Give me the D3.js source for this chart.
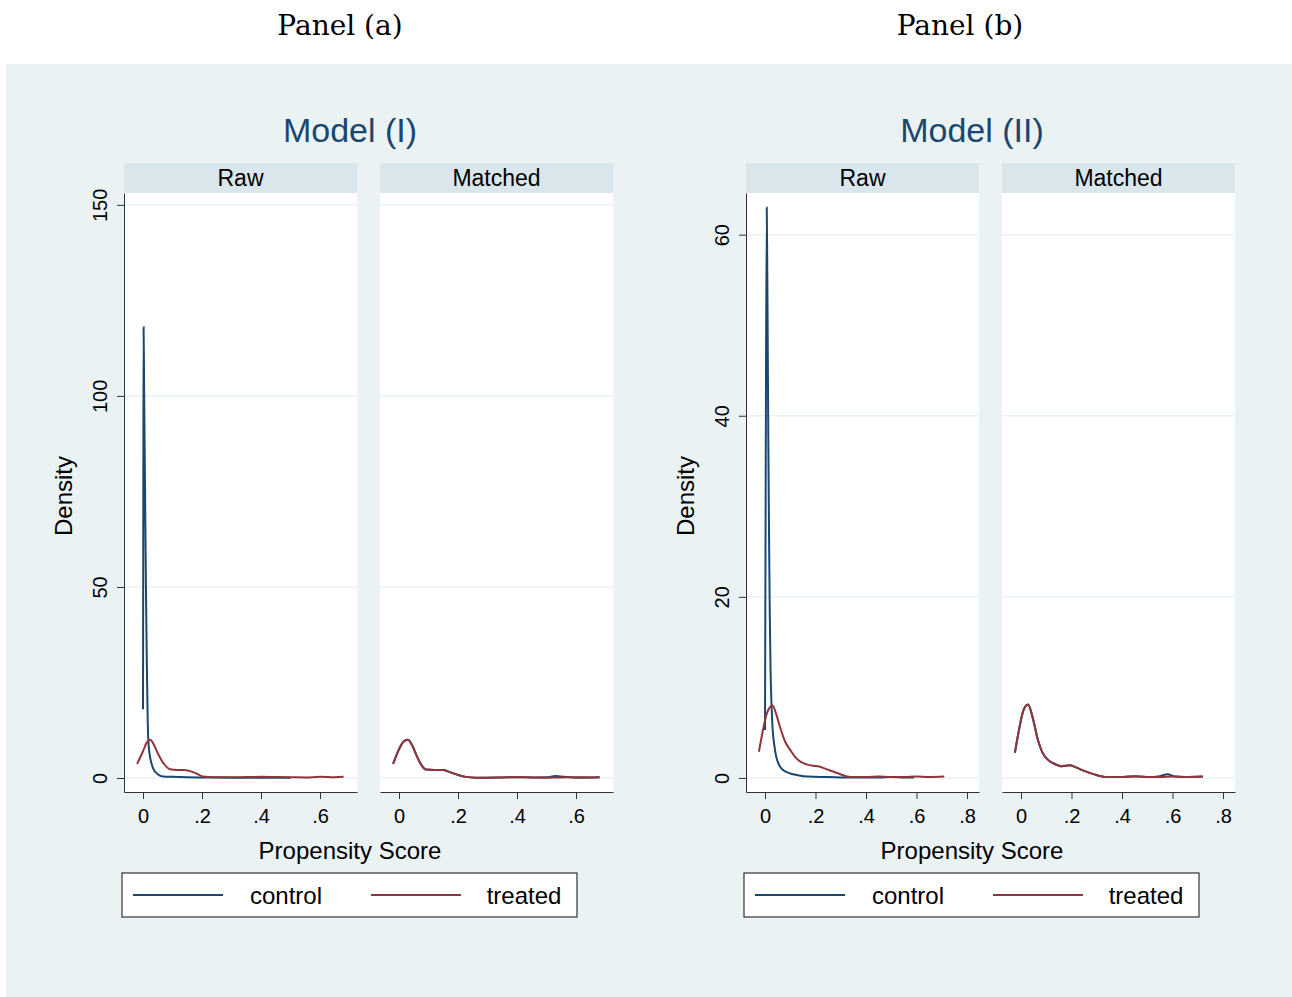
<!DOCTYPE html>
<html>
<head>
<meta charset="utf-8">
<script src="https://cdn.jsdelivr.net/npm/d3@7"></script>
<style>
  body { margin: 0; background: #fff; }
  text { font-family: "Liberation Sans", Arial, sans-serif; fill: #000; }
  .panelTitle { font-family: "DejaVu Serif", "Liberation Serif", serif; }
</style>
</head>
<body>
<div id="chart"></div>
<script>
// density curves: [propensity score, density]
var m1RawControl = [[0,18],[0.001,70],[0.002,118],[0.004,100],[0.007,75],[0.010,50],[0.013,30],[0.016,15],[0.018,10],[0.022,6.5],[0.026,4.7],[0.034,2.6],[0.05,1],[0.068,0.4],[0.1,0.3],[0.15,0.2],[0.2,0.15],[0.3,0.1],[0.4,0.08],[0.5,0.05]];
var m1RawTreated = [[-0.02,3.7],[0,7],[0.012,9.2],[0.024,10],[0.035,9],[0.05,6.5],[0.07,3.8],[0.092,2.3],[0.115,2.1],[0.136,2.1],[0.16,1.8],[0.18,1.2],[0.203,0.4],[0.24,0.2],[0.3,0.2],[0.35,0.25],[0.4,0.3],[0.45,0.25],[0.5,0.2],[0.55,0.15],[0.6,0.3],[0.65,0.2],[0.68,0.3]];
var m1MatchedControl = [[-0.02,3.7],[0,7.5],[0.015,9.5],[0.03,10],[0.045,8.5],[0.06,5.8],[0.075,3.5],[0.092,2.2],[0.12,2.1],[0.15,2.1],[0.17,1.6],[0.2,0.8],[0.227,0.3],[0.26,0.1],[0.3,0.1],[0.35,0.15],[0.4,0.2],[0.45,0.15],[0.5,0.2],[0.53,0.5],[0.56,0.3],[0.6,0.1],[0.65,0.15],[0.68,0.2]];
var m1MatchedTreated = [[-0.02,3.7],[0,7.5],[0.015,9.5],[0.03,10],[0.045,8.5],[0.06,5.8],[0.075,3.5],[0.092,2.2],[0.12,2.1],[0.15,2.1],[0.17,1.6],[0.2,0.8],[0.227,0.3],[0.26,0.1],[0.3,0.1],[0.35,0.15],[0.4,0.2],[0.45,0.15],[0.5,0.1],[0.55,0.15],[0.6,0.2],[0.65,0.15],[0.68,0.2]];

var m2RawControl = [[0,5.3],[0.003,35],[0.007,63],[0.01,52],[0.013,38],[0.016,27],[0.019,18],[0.022,12],[0.026,8],[0.03,5.5],[0.037,3.6],[0.045,2.3],[0.055,1.5],[0.07,0.9],[0.1,0.5],[0.13,0.3],[0.17,0.15],[0.25,0.1],[0.35,0.05],[0.45,0.05],[0.5,0.1],[0.55,0.05],[0.59,0.05]];
var m2RawTreated = [[-0.024,2.9],[-0.01,5],[0.008,7.2],[0.03,8],[0.045,7],[0.06,5.6],[0.08,4],[0.1,3.1],[0.12,2.3],[0.14,1.8],[0.165,1.5],[0.19,1.35],[0.21,1.3],[0.24,1.0],[0.285,0.55],[0.34,0.1],[0.4,0.1],[0.45,0.15],[0.5,0.1],[0.55,0.1],[0.6,0.15],[0.65,0.1],[0.71,0.15]];
var m2MatchedControl = [[-0.024,2.8],[-0.01,5],[0.01,7.5],[0.028,8.1],[0.045,6.8],[0.067,4.2],[0.085,2.8],[0.107,2],[0.13,1.6],[0.162,1.3],[0.194,1.4],[0.215,1.2],[0.24,0.9],[0.29,0.4],[0.34,0.1],[0.4,0.1],[0.45,0.2],[0.5,0.1],[0.55,0.2],[0.58,0.4],[0.61,0.15],[0.65,0.1],[0.72,0.15]];
var m2MatchedTreated = [[-0.024,2.8],[-0.01,5],[0.01,7.5],[0.028,8.1],[0.045,6.8],[0.067,4.2],[0.085,2.8],[0.107,2],[0.13,1.6],[0.162,1.3],[0.194,1.4],[0.215,1.2],[0.24,0.9],[0.29,0.4],[0.34,0.1],[0.4,0.1],[0.45,0.15],[0.5,0.1],[0.55,0.1],[0.6,0.15],[0.65,0.1],[0.72,0.15]];

var facetNames = ["Raw", "Matched"];
var seriesNames = ["control", "treated"];
var seriesColors = ["#1a476f", "#90353b"];
var m1YTicks = [0, 50, 100, 150];
var m2YTicks = [0, 20, 40, 60];
var m1XTicks = [0, 0.2, 0.4, 0.6];
var m2XTicks = [0, 0.2, 0.4, 0.6, 0.8];

var width = 1292, height = 997;
var svg = d3.select("#chart").append("svg")
  .attr("width", width).attr("height", height);

svg.append("rect").attr("x", 6).attr("y", 64).attr("width", width - 6).attr("height", height - 64)
  .attr("fill", "#eaf2f3");

var tickFmt = function(d) { return d === 0 ? "0" : d3.format(".1f")(d).replace(/^0/, ""); };

var models = [
  { panel: "Panel (a)", title: "Model (I)", cx: 340, tcx: 350, left: [124, 380], pw: 233,
    xdom: [-0.0644, 0.7254], ydom: [-3.66, 153.1], xt: m1XTicks, yt: m1YTicks,
    curves: [[m1RawControl, m1RawTreated], [m1MatchedControl, m1MatchedTreated]] },
  { panel: "Panel (b)", title: "Model (II)", cx: 960, tcx: 972, left: [746, 1002], pw: 233,
    xdom: [-0.0752, 0.8475], ydom: [-1.55, 64.6], xt: m2XTicks, yt: m2YTicks,
    curves: [[m2RawControl, m2RawTreated], [m2MatchedControl, m2MatchedTreated]] }
];

var plotTop = 193, plotBottom = 792;

models.forEach(function(m) {
  svg.append("text").attr("class", "panelTitle")
    .attr("x", m.cx).attr("y", 35).attr("text-anchor", "middle")
    .style("font-size", "28px").text(m.panel);

  svg.append("text").attr("x", m.tcx).attr("y", 142).attr("text-anchor", "middle")
    .style("font-size", "34px").style("fill", "#1a476f").text(m.title);

  var y = d3.scaleLinear().domain(m.ydom).range([plotBottom, plotTop]);

  m.left.forEach(function(lx, fi) {
    var x = d3.scaleLinear().domain(m.xdom).range([lx, lx + m.pw]);
    var g = svg.append("g");

    // strip
    g.append("rect").attr("x", lx).attr("y", 163).attr("width", m.pw).attr("height", 30)
      .attr("fill", "#d9e6eb");
    g.append("text").attr("x", lx + m.pw / 2).attr("y", 186).attr("text-anchor", "middle")
      .style("font-size", "23px").text(facetNames[fi]);

    // plot region
    g.append("rect").attr("x", lx).attr("y", plotTop).attr("width", m.pw).attr("height", plotBottom - plotTop)
      .attr("fill", "#fff");

    g.selectAll(".grid").data(m.yt).enter().append("line")
      .attr("x1", lx).attr("x2", lx + m.pw)
      .attr("y1", function(d) { return y(d); }).attr("y2", function(d) { return y(d); })
      .attr("stroke", "#eaf2f3").attr("stroke-width", 1.5);

    var line = d3.line()
      .x(function(d) { return x(d[0]); })
      .y(function(d) { return y(d[1]); })
      .curve(d3.curveMonotoneX);

    m.curves[fi].forEach(function(c, si) {
      g.append("path").datum(c).attr("d", line)
        .attr("fill", "none").attr("stroke", seriesColors[si]).attr("stroke-width", 2);
    });

    // x axis
    var xa = g.append("g").attr("transform", "translate(0," + plotBottom + ")")
      .call(d3.axisBottom(x).tickValues(m.xt).tickFormat(tickFmt).tickSize(7).tickSizeOuter(0));
    xa.select(".domain").attr("stroke", "#333");
    xa.selectAll(".tick line").attr("stroke", "#333");
    xa.selectAll("text").style("font-size", "20px").attr("fill", "#000")
      .attr("font-family", "Liberation Sans, Arial, sans-serif").attr("dy", "1em").attr("y", 11);

    if (fi === 0) {
      var ya = g.append("g").attr("transform", "translate(" + lx + ",0)")
        .call(d3.axisLeft(y).tickValues(m.yt).tickFormat(d3.format("d")).tickSize(7).tickSizeOuter(0));
      ya.select(".domain").attr("stroke", "#333");
      ya.selectAll(".tick line").attr("stroke", "#333");
      ya.selectAll("text").style("font-size", "20px").attr("fill", "#000")
        .attr("font-family", "Liberation Sans, Arial, sans-serif")
        .attr("x", null).attr("dy", null).attr("text-anchor", "middle")
        .attr("transform", "translate(-17,0) rotate(-90)");

      svg.append("text").attr("transform", "translate(" + (lx - 52) + "," + 496 + ") rotate(-90)")
        .attr("text-anchor", "middle").style("font-size", "24px").text("Density");
    }
  });

  svg.append("text").attr("x", m.tcx).attr("y", 859).attr("text-anchor", "middle")
    .style("font-size", "24px").text("Propensity Score");

  // legend
  var lx0 = m.left[0] - 2;
  var lg = svg.append("g").attr("transform", "translate(" + lx0 + ",873)");
  lg.append("rect").attr("width", 455).attr("height", 44).attr("fill", "#fff")
    .attr("stroke", "#333").attr("stroke-width", 1.2);
  seriesNames.forEach(function(s, i) {
    var ox = 11 + i * 238;
    lg.append("line").attr("x1", ox).attr("x2", ox + 90).attr("y1", 22).attr("y2", 22)
      .attr("stroke", seriesColors[i]).attr("stroke-width", 2);
    lg.append("text").attr("x", ox + 153).attr("y", 31).attr("text-anchor", "middle")
      .style("font-size", "24px").text(s);
  });
});
</script>
</body>
</html>
